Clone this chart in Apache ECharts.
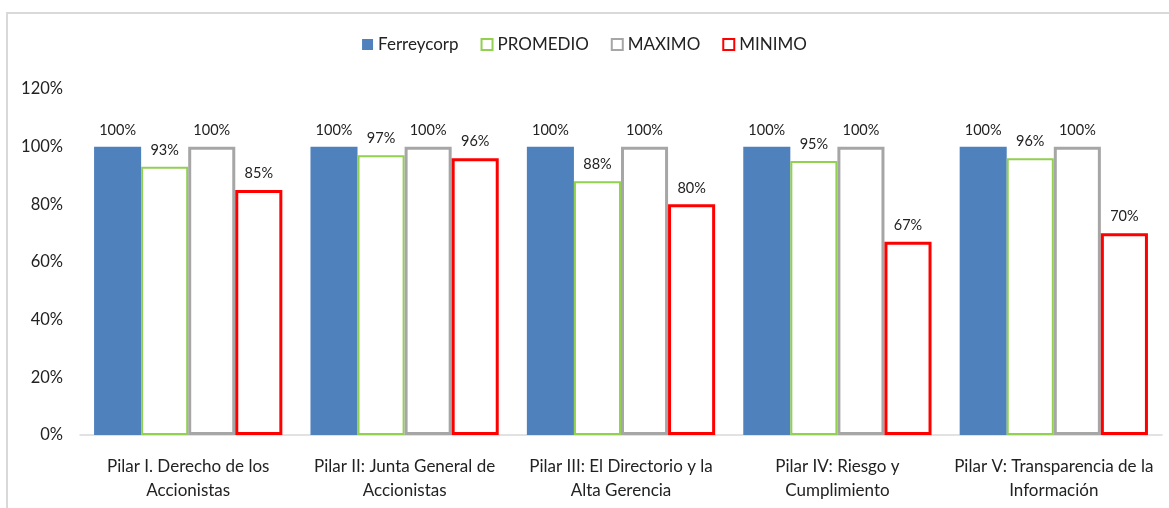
<!DOCTYPE html>
<html>
<head>
<meta charset="utf-8">
<script src="https://cdn.jsdelivr.net/npm/echarts@6/dist/echarts.min.js"></script>
<style>
  html, body { margin: 0; padding: 0; background: #fff; }
  #frame { position: absolute; left: 6px; top: 12px; width: 1200px; height: 520px;
    border-left: 2px solid #d9d9d9; border-top: 2px solid #d9d9d9; box-sizing: border-box; }
  #chart { position: absolute; left: 0; top: 0; width: 1169px; height: 508px; }
</style>
</head>
<body>
<div id="frame"></div>
<div id="chart"></div>
<script>
const categories = [
  'Pilar I. Derecho de los\nAccionistas',
  'Pilar II: Junta General de\nAccionistas',
  'Pilar III: El Directorio y la\nAlta Gerencia',
  'Pilar IV: Riesgo y\nCumplimiento',
  'Pilar V: Transparencia de la\nInformación'
];
const ferreycor = [100, 100, 100, 100, 100];
const promedio = [93, 97, 88, 95, 96];
const maximo = [100, 100, 100, 100, 100];
const minimo = [85, 96, 80, 67, 70];

const font = 'Lato, "Open Sans", sans-serif';
const chart = echarts.init(document.getElementById('chart'));

const label = {
  show: true,
  position: 'top',
  distance: 9,
  formatter: (p) => p.value + '%',
  color: '#222',
  fontSize: 14.5,
  fontFamily: font
};

function outlined(name, data, color, width) {
  return {
    name: name,
    type: 'bar',
    data: data,
    barGap: '0%',
    barCategoryGap: '13%',
    itemStyle: { color: '#fff', borderColor: color, borderWidth: width },
    label: label
  };
}

chart.setOption({
  animation: false,
  textStyle: { fontFamily: font },
  legend: {
    top: 31,
    left: 'center',
    itemWidth: 11,
    itemHeight: 11,
    itemGap: 22,
    textStyle: { fontSize: 17, color: '#222', fontFamily: font },
    data: [
      { name: 'Ferreycorp', icon: 'rect' },
      { name: 'PROMEDIO', icon: 'rect' },
      { name: 'MAXIMO', icon: 'rect' },
      { name: 'MINIMO', icon: 'rect' }
    ]
  },
  grid: { left: 80, right: 7, top: 89, bottom: 73, containLabel: false },
  xAxis: {
    type: 'category',
    data: categories,
    axisLine: { lineStyle: { color: '#d9d9d9', width: 1.5 } },
    axisTick: { show: false },
    axisLabel: { color: '#222', fontSize: 17, lineHeight: 24, margin: 20, fontFamily: font, interval: 0 }
  },
  yAxis: {
    type: 'value',
    min: 0,
    max: 120,
    interval: 20,
    splitLine: { show: false },
    axisLine: { show: false },
    axisTick: { show: false },
    axisLabel: { formatter: '{value}%', color: '#222', fontSize: 16.5, margin: 17, fontFamily: font }
  },
  series: [
    {
      name: 'Ferreycorp',
      type: 'bar',
      data: ferreycor,
      barGap: '0%',
      barCategoryGap: '13%',
      itemStyle: { color: '#4f81bd' },
      label: label
    },
    outlined('PROMEDIO', promedio, '#92d050', 2),
    outlined('MAXIMO', maximo, '#a6a6a6', 3),
    outlined('MINIMO', minimo, '#ff0000', 3)
  ]
});
</script>
</body>
</html>
